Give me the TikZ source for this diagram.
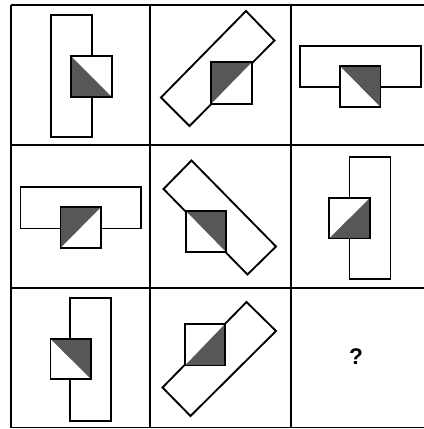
\documentclass[tikz,border=0pt]{standalone}
\usepackage{fontspec}
\setmainfont{Liberation Sans}
\begin{document}
\begin{tikzpicture}[x=0.75pt,y=-0.75pt,
  gridline/.style={line width=1.4pt, black},
  figline/.style={line width=1.4pt, black, line join=miter},
  shadefill/.style={fill=black!66}]
\useasboundingbox (0,0) rectangle (424,429);
\fill[white] (0,0) rectangle (424,429);
% grid
\draw[gridline] (11,5) -- (424,5);
\draw[gridline] (11,145) -- (424,145);
\draw[gridline] (11,288) -- (424,288);
\draw[gridline] (11,427.5) -- (424,427.5);
\draw[gridline] (11,5) -- (11,427.5);
\draw[gridline] (150,5) -- (150,427.5);
\draw[gridline] (291,5) -- (291,427.5);
% cell 1
\draw[figline] (51,15) rectangle (92,137);
\fill[white] (71,56) rectangle (112,97);
\fill[shadefill] (71,56) -- (71,97) -- (112,97) -- cycle;
\draw[figline] (71,56) rectangle (112,97);
% cell 2
\draw[figline] (246,11) -- (274.5,40.5) -- (189.5,126) -- (161,97.5) -- cycle;
\fill[white] (211,62) rectangle (252,104);
\fill[shadefill] (211,62) -- (252,62) -- (211,104) -- cycle;
\draw[figline] (211,62) rectangle (252,104);
% cell 3
\draw[figline] (300,46) rectangle (421,87);
\fill[white] (340,66) rectangle (380.5,107);
\fill[shadefill] (340,66) -- (380.5,66) -- (380.5,107) -- cycle;
\draw[figline] (340,66) rectangle (380.5,107);
% cell 4
\draw[figline] (20.5,187) rectangle (141,228.5);
\fill[white] (60.5,207) rectangle (101,248);
\fill[shadefill] (60.5,207) -- (101,207) -- (60.5,248) -- cycle;
\draw[figline] (60.5,207) rectangle (101,248);
% cell 5
\draw[figline] (191.5,160.5) -- (276,246.5) -- (247.5,274.5) -- (163.5,189) -- cycle;
\fill[white] (186,211) rectangle (226,252);
\fill[shadefill] (186,211) -- (226,211) -- (226,252) -- cycle;
\draw[figline] (186,211) rectangle (226,252);
% cell 6
\draw[figline] (349.5,157) rectangle (390.5,279);
\fill[white] (329,198) rectangle (370,238.5);
\fill[shadefill] (370,198) -- (370,238.5) -- (329,238.5) -- cycle;
\draw[figline] (329,198) rectangle (370,238.5);
% cell 7
\draw[figline] (70,298) rectangle (111,421);
\fill[white] (50.5,339) rectangle (91,379);
\fill[shadefill] (50.5,339) -- (91,339) -- (91,379) -- cycle;
\draw[figline] (50.5,339) rectangle (91,379);
% cell 8
\draw[figline] (246.5,302) -- (276,331) -- (190.5,416) -- (162.5,387.5) -- cycle;
\fill[white] (185,324) rectangle (225,365.5);
\fill[shadefill] (225,324) -- (225,365.5) -- (185,365.5) -- cycle;
\draw[figline] (185,324) rectangle (225,365.5);
% cell 9
\node[font=\fontsize{17}{20}\selectfont\bfseries, inner sep=0pt] (q) at (356,356.5) {?};
\end{tikzpicture}
\end{document}
